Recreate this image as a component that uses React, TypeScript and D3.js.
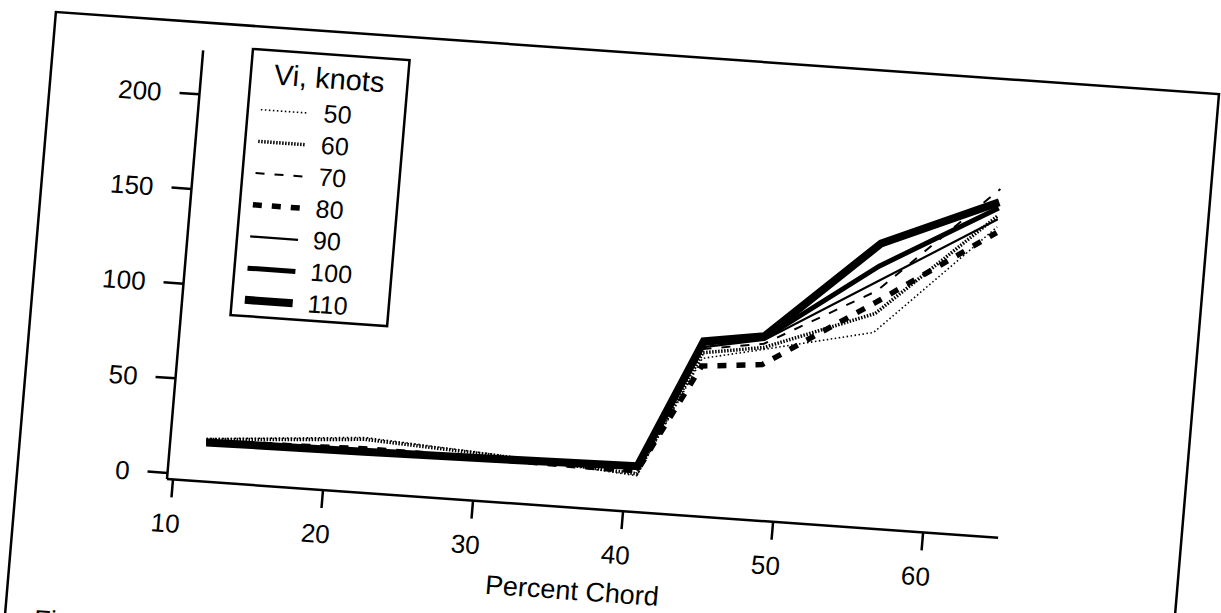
import React from 'react';
import * as d3 from 'd3';

// Percent chord stations (x) and values per indicated airspeed series
const chordStations = [12, 22.5, 31, 40.7, 44.4, 48.4, 55.6, 63.2];
const seriesNames = ['50', '60', '70', '80', '90', '100', '110'];
const vi50 = [19.5, 26, 22, 16, 80, 87, 100, 160];
const vi60 = [19, 25, 21.5, 17, 83, 88, 110, 166];
const vi70 = [18.5, 21, 20, 18, 85, 90, 122, 180];
const vi80 = [18, 19.5, 19.5, 18.5, 76, 79, 116, 157];
const vi90 = [18, 19, 19.5, 20, 86, 92, 127, 164];
const vi100 = [17.5, 18.5, 19.5, 21, 88, 93, 135, 170];
const vi110 = [17.5, 18.5, 19.5, 21, 89, 94, 147, 173];
const seriesValues = [vi50, vi60, vi70, vi80, vi90, vi100, vi110];

const xTicks = [10, 20, 30, 40, 50, 60];
const yTicks = [0, 50, 100, 150, 200];
const xTitle = 'Percent Chord';
const legendTitle = 'Vi, knots';
const captionFragment = 'Fi';

const lineStyles = [
  { w: 1.6, dash: '1.5 2.5' },
  { w: 3.5, dash: '1.5 1.5' },
  { w: 2, dash: '9 10' },
  { w: 5.5, dash: '9 10' },
  { w: 2.2, dash: null },
  { w: 5, dash: null },
  { w: 8, dash: null },
];

const FONT = '"Liberation Sans", Arial, Helvetica, sans-serif';

export default function App() {
  const x = d3.scaleLinear().domain([10, 60]).range([6, 758]);
  const y = d3.scaleLinear().domain([0, 200]).range([-6, -386]);
  const line = d3
    .line<number>()
    .x((_, i) => x(chordStations[i]))
    .y((d) => y(d));

  const xAxisEnd = x(65);
  const yAxisTop = -430;

  const box = { x: 49.5, y: -435, w: 157, h: 267 };
  const rowBase = (i: number) => box.y + 68 + i * 31.8;

  return (
    <svg
      width={1221}
      height={613}
      style={{ position: 'absolute', left: 0, top: 0, display: 'block', background: '#fff' }}
    >
      <rect x={0} y={0} width={1221} height={613} fill="#fff" />
      <g transform="matrix(0.9975 0.0705 -0.0841 0.9966 167 479)" fontFamily={FONT} fill="#000">
        {/* outer frame */}
        <rect x={-150} y={-458} width={1166} height={720} fill="none" stroke="#000" strokeWidth={2.5} />

        {/* axes */}
        <line x1={0} y1={0} x2={xAxisEnd} y2={0} stroke="#000" strokeWidth={2.5} />
        <line x1={0} y1={0} x2={0} y2={yAxisTop} stroke="#000" strokeWidth={2.5} />

        {xTicks.map((t) => (
          <g key={'xt' + t}>
            <line x1={x(t)} y1={0} x2={x(t)} y2={18} stroke="#000" strokeWidth={2.5} />
            <text x={x(t) - 4} y={53} fontSize={26} textAnchor="middle">
              {t}
            </text>
          </g>
        ))}
        {yTicks.map((t) => (
          <g key={'yt' + t}>
            <line x1={-20} y1={y(t)} x2={0} y2={y(t)} stroke="#000" strokeWidth={2.5} />
            <text x={-38} y={y(t)} dy="0.35em" fontSize={26} textAnchor="end">
              {t}
            </text>
          </g>
        ))}

        <text x={413} y={92} fontSize={27} textAnchor="middle">
          {xTitle}
        </text>

        {/* series lines */}
        {seriesValues.map((vals, i) => (
          <path
            key={'s' + i}
            d={line(vals) || ''}
            fill="none"
            stroke="#000"
            strokeWidth={lineStyles[i].w}
            strokeDasharray={lineStyles[i].dash || undefined}
            strokeLinejoin="miter"
            strokeLinecap="butt"
          />
        ))}

        {/* legend */}
        <rect x={box.x} y={box.y} width={box.w} height={box.h} fill="#fff" stroke="#000" strokeWidth={2.5} />
        <text x={box.x + 78.5} y={box.y + 34} fontSize={29} textAnchor="middle">
          {legendTitle}
        </text>
        {seriesNames.map((name, i) => (
          <g key={'lg' + name}>
            <line
              x1={box.x + 13}
              x2={box.x + 61}
              y1={rowBase(i) - 8}
              y2={rowBase(i) - 8}
              stroke="#000"
              strokeWidth={lineStyles[i].w}
              strokeDasharray={lineStyles[i].dash || undefined}
            />
            <text x={box.x + 76} y={rowBase(i)} fontSize={25}>
              {name}
            </text>
          </g>
        ))}

        <text x={-121} y={158.5} fontSize={27}>
          {captionFragment}
        </text>
      </g>
    </svg>
  );
}
